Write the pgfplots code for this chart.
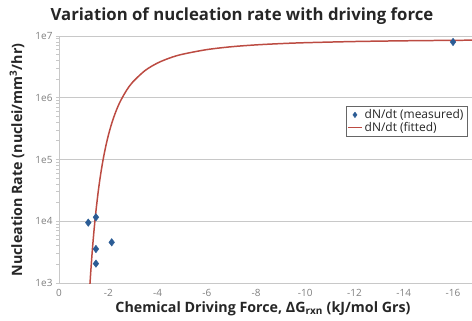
\documentclass[border=0pt]{standalone}
\usepackage{pgfplots}
\pgfplotsset{compat=1.18}
\usepackage{fontspec}
\setmainfont{Open Sans}
\definecolor{gridgray}{HTML}{C8C8C8}
\definecolor{tickgray}{HTML}{7F7F7F}
\definecolor{ptblue}{HTML}{2B5C95}
\definecolor{fitred}{HTML}{BC4B42}
\definecolor{txt}{HTML}{262626}
\pgfplotsset{
  legline/.style={legend image code/.code={\draw[##1] (0bp,0bp) -- (14bp,0bp);}},
  legmark/.style={legend image code/.code={\path (0bp,0bp) (14bp,0bp);\path[##1] plot[mark size=2.8pt] coordinates {(7bp,0bp)};}},
}
\begin{document}
\begin{tikzpicture}[x=1bp,y=1bp]
\path[use as bounding box] (-59,-37) rectangle (413,283);
\begin{axis}[
  at={(0,0)}, anchor=south west,
  scale only axis, width=413bp, height=247bp,
  ymode=log, ymin=1e3, ymax=1e7,
  x dir=reverse, xmin=-16.77, xmax=0,
  axis x line*=bottom, axis y line*=left,
  axis line style={gridgray, line width=0.9pt},
  xtick={0,-2,-4,-6,-8,-10,-12,-14,-16},
  xticklabels={0,-2,-4,-6,-8,-10,-12,-14,-16},
  ytick={1e3,1e4,1e5,1e6,1e7},
  yticklabels={1e3,1e4,1e5,1e6,1e7},
  minor ytick={},
  ymajorgrids, grid style={gridgray, line width=0.9pt},
  major tick length=3bp,
  xtick style={draw=none},
  ytick style={gridgray, line width=0.9pt},
  tick align=outside,
  ticklabel style={font=\fontsize{10}{11}\selectfont, text=tickgray},
  legend style={at={(0.988,0.717)}, anchor=north east, draw=black!60,
    font=\fontsize{12}{13}\selectfont, text=txt, inner sep=1.5pt, row sep=-2pt,
    legend cell align=left},
  clip=true,
]
\addplot[fitred, line width=1.5pt, smooth, forget plot] coordinates {
(-1.2,396) (-1.25,867) (-1.3,1740) (-1.35,3240) (-1.4,5650) (-1.45,9320)
(-1.5,14600) (-1.6,31800) (-1.7,60600) (-1.8,104000) (-1.9,164000)
(-2.0,243000) (-2.1,339000) (-2.2,454000) (-2.35,658000) (-2.5,892000)
(-2.75,1332000) (-3,1807000) (-3.5,2770000) (-4,3650000) (-4.5,4410000)
(-5,5050000) (-6,6020000) (-7,6700000) (-8,7180000) (-9,7530000)
(-10,7790000) (-12,8140000) (-14,8360000) (-16,8510000) (-17,8560000)
};
\addplot[only marks, mark=diamond*, mark size=3.8pt, ptblue, draw=ptblue, fill=ptblue, legmark] coordinates {
(-1.19,9500) (-1.5,11600) (-2.14,4560) (-1.5,3550) (-1.5,2060) (-16,8000000)
};
\addlegendentry{dN/dt (measured)}
\addlegendimage{fitred, line width=1.5pt, legline}
\addlegendentry{dN/dt (fitted)}
\end{axis}
\node[font=\bfseries\fontsize{16.8}{18}\selectfont, text=txt] at (183,267) {Variation of nucleation rate with driving force};
\node[font=\bfseries\fontsize{14.3}{16}\selectfont, text=txt] at (204,-26) {Chemical Driving Force, ΔG\textsubscript{rxn} (kJ/mol Grs)};
\node[font=\bfseries\fontsize{14.3}{16}\selectfont, text=txt, rotate=90] at (-42,123) {Nucleation Rate (nuclei/mm\textsuperscript{3}/hr)};
\end{tikzpicture}
\end{document}
